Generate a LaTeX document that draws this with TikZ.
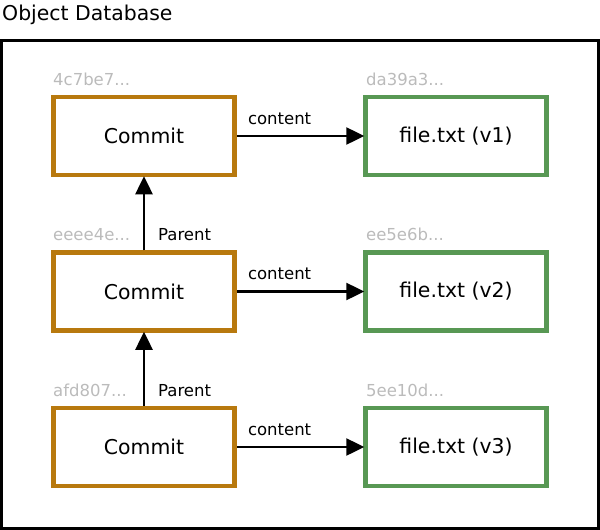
\documentclass[tikz,border=0pt]{standalone}
\usepackage{fontspec}
\setmainfont{DejaVu Sans}
\usetikzlibrary{arrows.meta}
\definecolor{commitc}{RGB}{184,121,14}
\definecolor{filec}{RGB}{88,152,84}
\definecolor{hashc}{RGB}{187,187,187}
\tikzset{
  big/.style={font=\fontsize{20.4}{24}\selectfont},
  small/.style={font=\fontsize{16.5}{19}\selectfont},
  commitbox/.style={draw=commitc, line width=4.5pt, minimum width=181pt, minimum height=78pt, inner sep=0pt, big, fill=white},
  filebox/.style={draw=filec, line width=4.5pt, minimum width=181pt, minimum height=78pt, inner sep=0pt, big, fill=white},
  hash/.style={small, text=hashc, anchor=base west, inner sep=0pt},
  lbl/.style={small, anchor=base west, inner sep=0pt},
  conn/.style={line width=2.5pt, -{Triangle[length=18pt,width=17pt]}, shorten >=-1pt},
}
\begin{document}
\begin{tikzpicture}[x=1pt,y=-1pt]
\useasboundingbox (0,0) rectangle (600,530);
\node[big, anchor=base west, inner sep=0pt] (title) at (2,20) {Object Database};
\draw[line width=3pt] (1.5,40) rectangle (598.5,528.5);
\node[commitbox] (c1) at (144,136) {Commit};
\node[commitbox] (c2) at (144,291.5) {Commit};
\node[commitbox] (c3) at (144,447) {Commit};
\node[filebox] (f1) at (456,136) {file.txt (v1)};
\node[filebox] (f2) at (456,291.5) {file.txt (v2)};
\node[filebox] (f3) at (456,447) {file.txt (v3)};
\node[hash] (h1) at (53,85) {4c7be7...};
\node[hash] (h2) at (53,240.5) {eeee4e...};
\node[hash] (h3) at (53,396) {afd807...};
\node[hash] (h4) at (366,85) {da39a3...};
\node[hash] (h5) at (366,240.5) {ee5e6b...};
\node[hash] (h6) at (366,396) {5ee10d...};
\draw[conn] (c1.east) -- node[lbl, at start, xshift=10pt, yshift=12pt] (l1) {content} (f1.west);
\draw[conn] (c2.east) -- node[lbl, at start, xshift=10pt, yshift=12pt] (l2) {content} (f2.west);
\draw[conn] (c3.east) -- node[lbl, at start, xshift=10pt, yshift=12pt] (l3) {content} (f3.west);
\draw[conn] (c2.north) -- (c1.south);
\draw[conn] (c3.north) -- (c2.south);
\node[lbl] (p1) at (158,240.5) {Parent};
\node[lbl] (p2) at (158,396) {Parent};
\end{tikzpicture}
\end{document}
